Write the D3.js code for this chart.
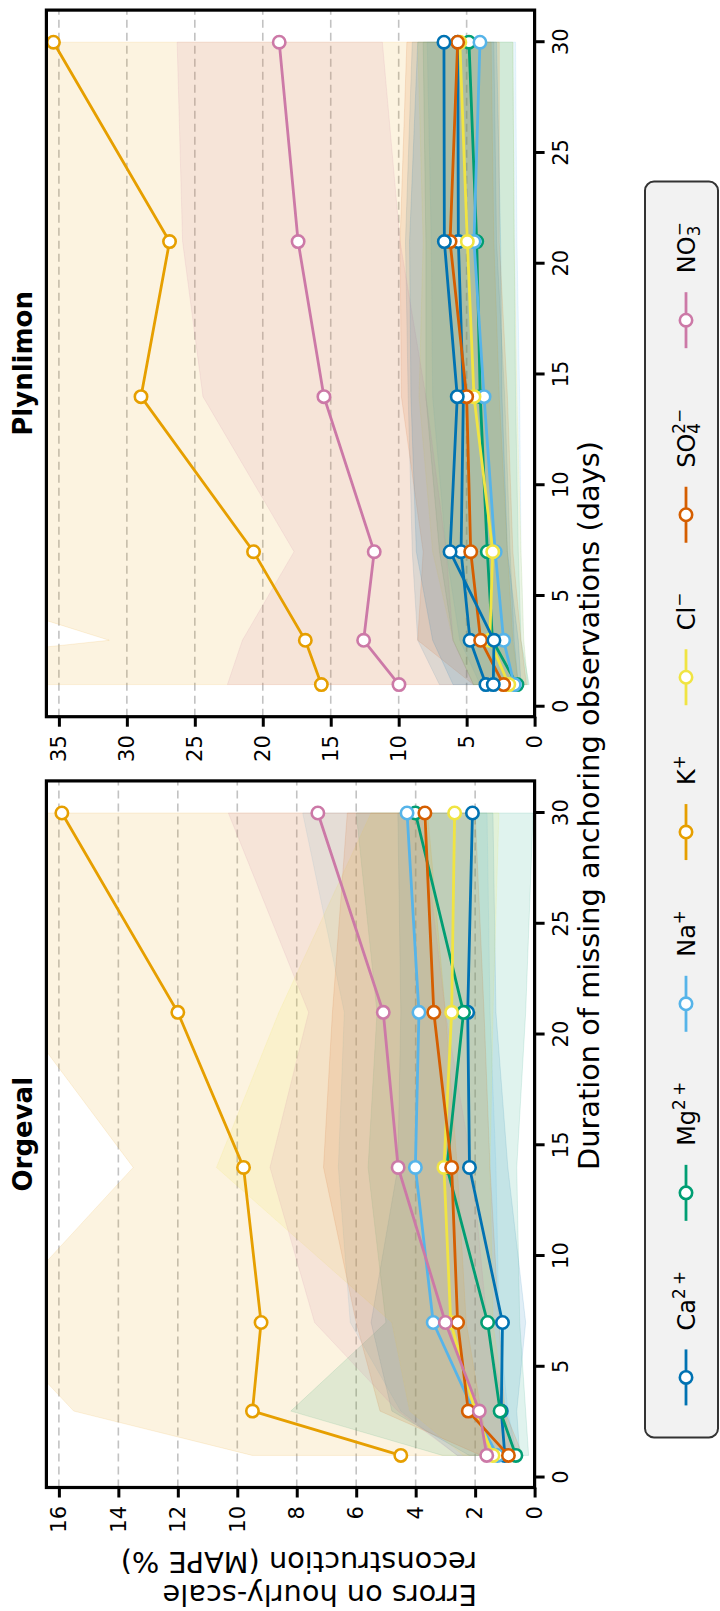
<!DOCTYPE html>
<html>
<head>
<meta charset="utf-8">
<script src="https://cdn.jsdelivr.net/npm/d3@7"></script>
<style>
body { margin: 0; background: #fff; }
svg { display: block; }
text { font-family: "DejaVu Sans", sans-serif; }
</style>
</head>
<body>
<script>
// duration of missing anchoring observations (days)
var days = [1, 3, 7, 14, 21, 30];
var dayTicks = [0, 5, 10, 15, 20, 25, 30];
var orgTicks = [0, 2, 4, 6, 8, 10, 12, 14, 16];
var plyTicks = [0, 5, 10, 15, 20, 25, 30, 35];

var colors = ["#0072B2", "#009E73", "#56B4E9", "#E69F00", "#F0E442", "#D55E00", "#CC79A7"];
var legendBase = ["Ca", "Mg", "Na", "K", "Cl", "SO", "NO"];
var legendSub = ["", "", "", "", "", "4", "3"];
var legendSup = ["2\u202F+", "2\u202F+", "+", "+", "\u2212", "2\u2212", "\u2212"];

// Orgeval : MAPE % (points) and spread (lo / hi)
var orgCa = [1.0, 1.12, 1.08, 2.19, 2.25, 2.09];
var orgMg = [0.63, 1.16, 1.58, 2.95, 2.39, 4.01];
var orgNa = [1.25, 2.05, 3.41, 4.01, 3.89, 4.29];
var orgK = [4.5, 9.49, 9.2, 9.79, 12.0, 15.9];
var orgCl = [1.4, 2.0, 2.82, 3.05, 2.79, 2.69];
var orgSO4 = [0.88, 2.23, 2.59, 2.79, 3.39, 3.69];
var orgNO3 = [1.61, 1.86, 3.0, 4.59, 5.09, 7.29];

var orgCaLo = [0.5, 0.6, 0.3, 0.9, 1.3, 1.4];
var orgCaHi = [2.2, 4.8, 5.5, 4.6, 4.5, 4.6];
var orgMgLo = [0.2, 0.3, 0.5, 0.6, 0.3, 0.05];
var orgMgHi = [3.1, 8.2, 5.0, 5.6, 5.3, 6.0];
var orgNaLo = [0.6, 0.9, 1.2, 1.3, 1.5, 1.6];
var orgNaHi = [2.6, 4.5, 6.2, 6.6, 6.4, 7.8];
var orgKLo = [1.5, 1.8, 2.3, 2.6, 3.0, 3.6];
var orgKHi = [9.5, 15.5, 18.3, 13.5, 17.4, 22.0];
var orgClLo = [0.7, 1.0, 1.4, 1.5, 1.4, 1.2];
var orgClHi = [2.4, 4.2, 4.8, 10.7, 8.6, 5.5];
var orgSO4Lo = [0.4, 1.0, 1.2, 1.5, 1.7, 2.0];
var orgSO4Hi = [1.8, 5.2, 6.0, 7.1, 6.8, 6.3];
var orgNO3Lo = [0.8, 1.0, 1.6, 2.1, 3.0, 3.8];
var orgNO3Hi = [2.6, 4.6, 7.4, 8.9, 7.6, 10.3];

// Plynlimon
var plyCa = [3.58, 4.75, 5.41, 5.24, 5.61, 5.65];
var plyCa2 = [3.04, 2.99, 6.22, 5.69, 6.64, 6.67];
var plyMg = [1.3, 3.1, 3.48, 4.0, 4.26, 4.83];
var plyNa = [1.5, 2.28, 2.9, 3.72, 4.46, 4.02];
var plyK = [15.69, 16.87, 20.68, 28.96, 26.86, 35.4];
var plyCl = [1.9, 3.3, 3.08, 4.46, 4.95, 5.5];
var plySO4 = [2.28, 3.97, 4.70, 5.0, 6.22, 5.66];
var plyNO3 = [9.98, 12.58, 11.8, 15.5, 17.4, 18.79];

var plyCaLo = [1.2, 1.5, 1.8, 2.2, 2.8, 3.0];
var plyCaHi = [7.0, 8.6, 9.0, 9.3, 9.5, 9.0];
var plyCa2Lo = [1.0, 1.2, 2.0, 2.4, 2.5, 2.8];
var plyCa2Hi = [6.0, 7.5, 8.7, 9.1, 9.2, 8.6];
var plyMgLo = [0.4, 1.0, 1.2, 1.4, 1.5, 1.6];
var plyMgHi = [4.5, 6.0, 7.0, 8.0, 8.0, 8.2];
var plyNaLo = [0.5, 0.8, 1.0, 1.1, 1.3, 1.4];
var plyNaHi = [4.0, 5.5, 6.5, 7.5, 7.6, 7.9];
var plyKLo = [1.2, 1.6, 2.0, 2.6, 3.0, 3.2];
var plyKHi = [62, 31.3, 52, 50, 50, 50];
var plyClLo = [0.5, 0.8, 1.0, 1.3, 1.5, 1.6];
var plyClHi = [4.5, 6.0, 7.5, 8.5, 8.2, 8.6];
var plySO4Lo = [0.6, 1.0, 1.6, 2.0, 2.6, 2.6];
var plySO4Hi = [4.5, 8.6, 8.2, 9.8, 9.9, 9.4];
var plyNO3Lo = [4.5, 6.0, 6.5, 8.0, 9.9, 11.2];
var plyNO3Hi = [22.6, 21.5, 17.7, 24.4, 25.9, 26.3];

// the figure is laid out landscape, then turned a quarter turn
var svgW = 720, svgH = 1611;
var figW = 1611;
var axTop = 46.4, axBottom = 534.6;

var svg = d3.select("body").append("svg").attr("width", svgW).attr("height", svgH);
svg.append("rect").attr("width", svgW).attr("height", svgH).attr("fill", "#fff");
var fig = svg.append("g").attr("transform", "translate(0," + svgH + ") rotate(-90)");

function s(c, v, lo, hi) { return { color: c, v: v, lo: lo, hi: hi }; }

var panels = [
  { title: "Orgeval", left: 123.5, right: 830.1, ymax: 16.42, yticks: orgTicks,
    series: [s(colors[0], orgCa, orgCaLo, orgCaHi), s(colors[1], orgMg, orgMgLo, orgMgHi),
             s(colors[2], orgNa, orgNaLo, orgNaHi), s(colors[3], orgK, orgKLo, orgKHi),
             s(colors[4], orgCl, orgClLo, orgClHi), s(colors[5], orgSO4, orgSO4Lo, orgSO4Hi),
             s(colors[6], orgNO3, orgNO3Lo, orgNO3Hi)] },
  { title: "Plynlimon", left: 894.3, right: 1600.9, ymax: 35.92, yticks: plyTicks,
    series: [s(colors[0], plyCa, plyCaLo, plyCaHi), s(colors[1], plyMg, plyMgLo, plyMgHi),
             s(colors[2], plyNa, plyNaLo, plyNaHi), s(colors[3], plyK, plyKLo, plyKHi),
             s(colors[4], plyCl, plyClLo, plyClHi), s(colors[5], plySO4, plySO4Lo, plySO4Hi),
             s(colors[6], plyNO3, plyNO3Lo, plyNO3Hi), s(colors[0], plyCa2, plyCa2Lo, plyCa2Hi)] }
];

panels.forEach(function (p, pi) {
  var x = d3.scaleLinear().domain([-0.45, 31.45]).range([p.left, p.right]);
  var y = d3.scaleLinear().domain([0, p.ymax]).range([axBottom, axTop]);
  var g = fig.append("g");

  g.append("clipPath").attr("id", "clip" + pi)
    .append("rect").attr("x", p.left).attr("y", axTop)
    .attr("width", p.right - p.left).attr("height", axBottom - axTop);

  // dashed grid
  g.append("g").selectAll("line")
    .data(p.yticks.filter(function (t) { return t > 0; }))
    .enter().append("line")
    .attr("x1", p.left).attr("x2", p.right)
    .attr("y1", function (d) { return y(d); }).attr("y2", function (d) { return y(d); })
    .attr("stroke", "#c2c2c2").attr("stroke-width", 1.6).attr("stroke-dasharray", "8,5");

  var plot = g.append("g").attr("clip-path", "url(#clip" + pi + ")");

  var area = d3.area()
    .x(function (d, i) { return x(days[i]); })
    .y0(function (d) { return y(d[0]); })
    .y1(function (d) { return y(d[1]); });
  var line = d3.line()
    .x(function (d, i) { return x(days[i]); })
    .y(function (d) { return y(d); });

  p.series.forEach(function (sr) {
    plot.append("path")
      .datum(sr.lo.map(function (l, i) { return [l, sr.hi[i]]; }))
      .attr("d", area)
      .attr("fill", sr.color).attr("fill-opacity", 0.12)
      .attr("stroke", sr.color).attr("stroke-opacity", 0.12).attr("stroke-width", 1);
  });

  p.series.forEach(function (sr) {
    plot.append("path").datum(sr.v).attr("d", line)
      .attr("fill", "none").attr("stroke", sr.color).attr("stroke-width", 2.8);
    plot.selectAll(null).data(sr.v).enter().append("circle")
      .attr("cx", function (d, i) { return x(days[i]); })
      .attr("cy", function (d) { return y(d); })
      .attr("r", 6.2).attr("fill", "#fff")
      .attr("stroke", sr.color).attr("stroke-width", 2.6);
  });

  // axes
  var xAxis = g.append("g").attr("transform", "translate(0," + axBottom + ")")
    .call(d3.axisBottom(x).tickValues(dayTicks).tickSize(10).tickPadding(8.5));
  var yAxis = g.append("g").attr("transform", "translate(" + p.left + ",0)")
    .call(d3.axisLeft(y).tickValues(p.yticks).tickSize(10).tickPadding(8.5));
  [xAxis, yAxis].forEach(function (a) {
    a.select(".domain").remove();
    a.attr("font-family", "DejaVu Sans").attr("font-size", 21);
    a.selectAll(".tick line").attr("stroke", "#000").attr("stroke-width", 3);
    a.selectAll(".tick text").attr("fill", "#000");
  });

  g.append("rect").attr("x", p.left).attr("y", axTop)
    .attr("width", p.right - p.left).attr("height", axBottom - axTop)
    .attr("fill", "none").attr("stroke", "#000").attr("stroke-width", 3.2);

  g.append("text").attr("x", (p.left + p.right) / 2).attr("y", 32)
    .attr("text-anchor", "middle").attr("font-size", 26).attr("font-weight", "bold")
    .text(p.title);
});

// axis labels
fig.append("text").attr("transform", "translate(26,477) rotate(-90)")
  .attr("font-size", 28.8).text("Errors on hourly-scale");
fig.append("text").attr("transform", "translate(59.5,477) rotate(-90)")
  .attr("font-size", 28.8).text("reconstruction (MAPE %)");
fig.append("text").attr("x", figW / 2).attr("y", 599)
  .attr("text-anchor", "middle").attr("font-size", 28.8)
  .text("Duration of missing anchoring observations (days)");

// legend
var legFont = 24, handle = 56, handlePad = 19, colSpace = 50;
var leg = fig.append("g");
var box = leg.append("rect");
var items = legendBase.map(function (b, i) {
  var it = leg.append("g");
  it.append("line").attr("x1", 0).attr("x2", handle).attr("y1", 0).attr("y2", 0)
    .attr("stroke", colors[i]).attr("stroke-width", 2.8);
  it.append("circle").attr("cx", handle / 2).attr("cy", 0).attr("r", 6.2)
    .attr("fill", "#fff").attr("stroke", colors[i]).attr("stroke-width", 2.6);
  var t = it.append("text").attr("x", handle + handlePad).attr("y", 8.5).attr("font-size", legFont);
  t.append("tspan").text(b);
  if (legendSub[i]) {
    var sz = legFont * 0.7;
    t.append("tspan").attr("font-size", sz).attr("dy", 5).text(legendSub[i]);
    t.append("tspan").attr("font-size", sz).attr("dx", -0.636 * sz).attr("dy", -15).text(legendSup[i]);
  } else {
    t.append("tspan").attr("font-size", legFont * 0.7).attr("dy", -9.5).text(legendSup[i]);
  }
  var w = handle + handlePad + t.node().getComputedTextLength();
  return { g: it, w: w };
});
var total = d3.sum(items, function (d) { return d.w; }) + colSpace * (items.length - 1);
var cx = figW / 2 - 3;
var start = cx - total / 2;
var legY = 686;
items.forEach(function (d) {
  d.g.attr("transform", "translate(" + start + "," + legY + ")");
  start += d.w + colSpace;
});
box.attr("x", cx - total / 2 - 32).attr("y", 645)
  .attr("width", total + 62).attr("height", 73).attr("rx", 9)
  .attr("fill", "#f2f2f2").attr("stroke", "#333").attr("stroke-width", 2);
</script>
</body>
</html>
